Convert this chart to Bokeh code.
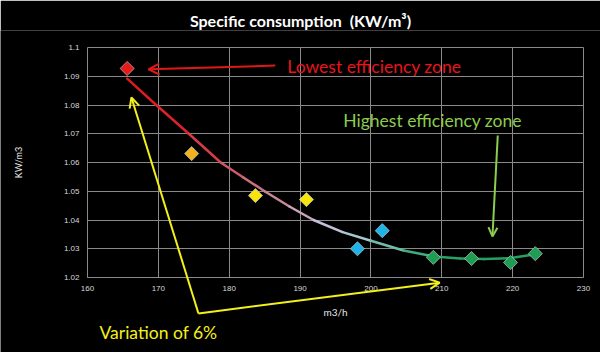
import math
from bokeh.plotting import figure
from bokeh.models import Range1d, FixedTicker, NumeralTickFormatter, Arrow, OpenHead, ColumnDataSource, Title
from bokeh.core.properties import value
from bokeh.embed import file_html
from bokeh.resources import INLINE

# ---- data ----
flow = [165.6, 174.7, 183.7, 190.9, 198.1, 201.6, 208.8, 214.2, 219.7, 223.2]
consumption = [1.0927, 1.0631, 1.0485, 1.0471, 1.0300, 1.0363, 1.0270, 1.0266, 1.0252, 1.0283]
point_colors = ["#e61b1b", "#f0b21e", "#f6e40a", "#f6e40a", "#1fb3e6", "#1fb3e6",
                "#1e9e52", "#1e9e52", "#1e9e52", "#1e9e52"]

trend_x = [165.6, 169.7, 174.3, 178.8, 182.0, 185.0, 188.5, 191.9, 196.0, 200.0,
           204.6, 208.9, 212.6, 216.0, 219.5, 223.0]
trend_y = [1.0892, 1.0800, 1.0700, 1.0600, 1.0548, 1.0500, 1.0447, 1.0400, 1.0358, 1.0328,
           1.0294, 1.0273, 1.0266, 1.0264, 1.0267, 1.0280]
trend_colors = ["#e01a1e", "#dc2428", "#d63c48", "#d05868", "#cc7080", "#c88898", "#c8a4b8",
                "#c4c0d8", "#a8c8d0", "#70bca8", "#40ac80", "#2aa266", "#26a05e", "#26a05e",
                "#26a05e"]

x_ticks = [160, 170, 180, 190, 200, 210, 220, 230]
y_ticks = [1.02, 1.03, 1.04, 1.05, 1.06, 1.07, 1.08, 1.09, 1.1]

# annotation anchors (data units)
red_arrow = dict(x_start=186.5, y_start=1.0937, x_end=168.6, y_end=1.0924)
yellow_arrow_up = dict(x_start=175.66, y_start=1.0075, x_end=166.2, y_end=1.0826)
yellow_arrow_right = dict(x_start=175.66, y_start=1.0075, x_end=209.7, y_end=1.0182)
green_arrow = dict(x_start=217.9, y_start=1.0694, x_end=217.15, y_end=1.0343)

labels_text = ["Lowest efficiency zone", "Highest efficiency zone", "Variation of 6%"]
labels_x = [188.2, 196.1, 161.7]
labels_y = [1.0934, 1.0746, 1.0008]
labels_color = ["#e8141c", "#8ccc50", "#f4f01c"]

# ---- figure: frame covers the whole canvas below the title ----
px_per_x = 496 / 70.0
px_per_y = 230 / 0.08
top_border = 30
p = figure(width=600, height=352, output_backend="svg", toolbar_location=None,
           x_range=Range1d(160 - 87 / px_per_x, 160 + 513 / px_per_x),
           y_range=Range1d(1.1 - 305 / px_per_y, 1.1 + (47 - top_border) / px_per_y),
           min_border_left=0, min_border_right=0, min_border_top=top_border, min_border_bottom=0,
           background_fill_color="black", border_fill_color="black", outline_line_color=None)

p.title = Title(text="Specific consumption\u00a0 (KW/m³)", align="center",
                text_color="white", text_font="Lato", text_font_size="16px",
                text_font_style="bold", standoff=2)

# grids limited to the plot box
p.xgrid.ticker = FixedTicker(ticks=x_ticks)
p.ygrid.ticker = FixedTicker(ticks=y_ticks)
p.xgrid.bounds = (160, 230)
p.ygrid.bounds = (1.02, 1.1)
p.xgrid.cross_bounds = (1.02, 1.1)
p.ygrid.cross_bounds = (160, 230)
for g in (p.xgrid, p.ygrid):
    g.grid_line_color = "#8a8a8a"
    g.grid_line_width = 1

# x axis at 1.02
xa = p.xaxis[0]
xa.fixed_location = 1.02
xa.bounds = (160, 230)
xa.ticker = FixedTicker(ticks=x_ticks)
xa.axis_line_color = "#8a8a8a"
xa.major_tick_line_color = None
xa.minor_tick_line_color = None
xa.major_tick_out = 0
xa.major_label_standoff = 8
xa.major_label_text_color = "#d8d8d8"
xa.major_label_text_font = "Liberation Sans"
xa.major_label_text_font_size = "8px"
xa.axis_label = "m3/h"
xa.axis_label_text_color = "#e8e8e8"
xa.axis_label_text_font = "Lato"
xa.axis_label_text_font_style = "normal"
xa.axis_label_text_font_size = "10px"
xa.axis_label_standoff = 12

# y axis at 160
ya = p.yaxis[0]
ya.fixed_location = 160
ya.bounds = (1.02, 1.1)
ya.ticker = FixedTicker(ticks=y_ticks)
ya.formatter = NumeralTickFormatter(format="0.0[0]")
ya.axis_line_color = None
ya.major_tick_line_color = None
ya.minor_tick_line_color = None
ya.major_tick_out = 0
ya.major_label_standoff = 8
ya.major_label_text_color = "#d8d8d8"
ya.major_label_text_font = "Liberation Sans"
ya.major_label_text_font_size = "8px"
ya.axis_label = "KW/m3"
ya.axis_label_text_color = "#e8e8e8"
ya.axis_label_text_font = "Lato"
ya.axis_label_text_font_style = "normal"
ya.axis_label_text_font_size = "9px"
ya.axis_label_standoff = 37

# gradient trend line
seg_xs = [[trend_x[i], trend_x[i + 1]] for i in range(len(trend_x) - 1)]
seg_ys = [[trend_y[i], trend_y[i + 1]] for i in range(len(trend_y) - 1)]
p.multi_line(xs=seg_xs, ys=seg_ys, line_color=trend_colors, line_width=2.5, line_cap="round")

# points (diamonds as rotated squares)
src = ColumnDataSource(dict(x=flow, y=consumption, c=point_colors))
p.scatter("x", "y", source=src, marker="square", angle=math.pi / 4, size=10, fill_color="c",
          line_color="#d8d8d8", line_alpha=0.6, line_width=1)

# arrows
p.add_layout(Arrow(end=OpenHead(size=11, line_color="#e01818", line_width=2),
                   line_color="#e01818", line_width=2, **red_arrow))
p.add_layout(Arrow(end=OpenHead(size=10, line_color="#f4f01c", line_width=2),
                   line_color="#f4f01c", line_width=2, **yellow_arrow_up))
p.add_layout(Arrow(end=OpenHead(size=10, line_color="#f4f01c", line_width=2),
                   line_color="#f4f01c", line_width=2, **yellow_arrow_right))
p.add_layout(Arrow(end=OpenHead(size=9, line_color="#8ccc50", line_width=2),
                   line_color="#8ccc50", line_width=2, **green_arrow))

# texts
tsrc = ColumnDataSource(dict(x=labels_x, y=labels_y, t=labels_text, c=labels_color))
p.text("x", "y", text="t", source=tsrc, text_color="c", text_font=value("Lato"),
       text_font_size="17.5px", text_baseline="alphabetic", text_align="left")

open("out.html", "w").write(file_html(p, INLINE))
